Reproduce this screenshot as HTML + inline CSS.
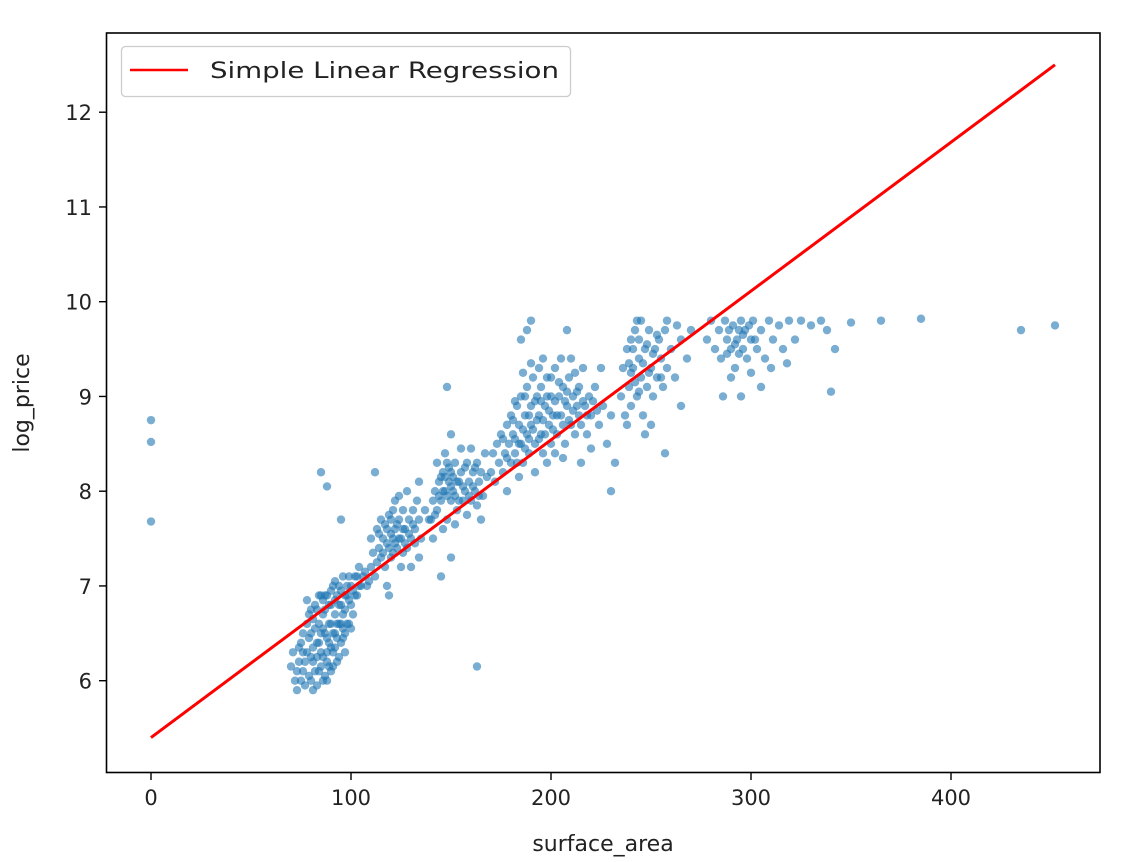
<!DOCTYPE html>
<html><head><meta charset="utf-8"><style>
html,body{margin:0;padding:0;background:#fff;}
svg{display:block;font-family:"DejaVu Sans","Liberation Sans",sans-serif;}
</style></head><body>
<svg id="chart" width="1126" height="862" viewBox="0 0 1126 862" xmlns="http://www.w3.org/2000/svg">
<rect x="0" y="0" width="1126" height="862" fill="#fff"/>
<g id="points"></g>
<g id="fit"></g>
<rect x="106.5" y="33" width="993.5" height="739.5" fill="none" stroke="#000" stroke-width="1.6"/>
<g id="xticks"></g>
<g id="yticks"></g>
<text x="603" y="851" font-size="22" text-anchor="middle" fill="#222">surface_area</text>
<text x="0" y="0" transform="translate(29,403) rotate(-90)" font-size="22" text-anchor="middle" fill="#222">log_price</text>
<g>
<rect x="121.5" y="46.5" width="449" height="50" rx="4" fill="#fff" fill-opacity="0.8" stroke="#ccc" stroke-width="1.3"/>
<line x1="130" y1="70" x2="188" y2="70" stroke="#f00" stroke-width="2.6"/>
<text x="210" y="78" font-size="22" fill="#222" textLength="349" lengthAdjust="spacingAndGlyphs">Simple Linear Regression</text>
</g>
</svg>
<script>
const xTicks = [0, 100, 200, 300, 400];
const yTicks = [6, 7, 8, 9, 10, 11, 12];
const fitX = [0, 452];
const fitY = [5.4, 12.5];
const points = [
[72,6.0],[74,6.2],[75,6.4],[76,6.1],[78,6.3],[78,6.6],[80,6.0],[80,6.5],[81,6.2],[82,6.8],[83,6.4],[84,6.1],[84,6.6],[85,6.9],[85,6.3],[86,6.0],[86,6.7],[87,6.5],[88,6.2],[88,6.9],[89,6.4],[89,6.8],[90,6.1],[90,6.6],[91,7.0],[91,6.3],[92,6.7],[92,6.5],[93,6.2],[93,6.9],[94,6.6],[94,7.0],[95,6.4],[95,6.8],[96,6.7],[96,7.1],[97,6.5],[98,6.9],[98,6.6],[99,7.1],[100,6.8],[100,7.0],[101,6.7],[102,7.1],[103,6.9],[104,7.2],[105,7.0],[106,7.1],[83,5.95],[87,6.05],[79,6.7],[76,6.5],[97,6.3],[90,6.95],[86,6.85],[82,6.55],[93,6.45],[99,6.6],[88,6.0],[71,6.3],
[73,5.9],[77,5.95],[81,5.9],[85,6.15],[89,6.15],[91,6.5],[95,6.6],[97,6.9],[92,6.85],[84,6.4],[80,6.25],[87,6.75],[102,6.9],[104,7.0],[90,6.35],[96,6.45],[70,6.15],[75,6.0],[94,6.25],[98,7.0],
[73,6.1],[74,6.35],[77,6.2],[79,6.05],[79,6.45],[81,6.35],[81,6.65],[83,6.25],[83,6.75],[85,6.5],[86,6.25],[87,6.9],[88,6.45],[89,6.6],[90,6.8],[91,6.15],[92,6.35],[93,6.6],[94,6.8],[95,6.95],[96,6.55],[97,6.75],[99,6.85],[101,6.95],[103,7.1],[100,6.55],[78,6.85],[84,6.9],[92,7.05],[86,6.55],[88,6.3],[82,6.1],[76,6.3],[80,6.75],
[108,7.0],[110,7.2],[112,7.1],[114,7.4],[115,7.3],[116,7.5],[117,7.2],[118,7.6],[119,7.4],[120,7.3],[120,7.7],[121,7.5],[122,7.6],[123,7.4],[124,7.7],[125,7.5],[126,7.8],[127,7.6],[128,7.4],[129,7.7],[130,7.5],[131,7.8],[132,7.6],[133,7.9],[134,7.7],[135,7.5],[118,7.0],[125,7.2],[130,7.2],[122,7.9],[137,7.8],[113,7.6],[128,8.0],[115,7.7],[139,7.7],[119,6.9],[110,7.5],[126,7.35],[134,7.3],[124,7.95],
[114,7.55],[116,7.35],[118,7.45],[120,7.55],[121,7.35],[122,7.45],[123,7.65],[124,7.5],[126,7.6],[127,7.45],[129,7.55],[131,7.65],[132,7.45],[117,7.65],[119,7.75],[121,7.8],[111,7.35],[113,7.25],[107,7.15],[109,7.05],
[140,7.7],[141,7.9],[142,8.0],[143,7.8],[144,8.1],[145,7.9],[146,8.2],[147,8.0],[148,7.7],[148,8.3],[149,8.1],[150,7.9],[150,8.2],[151,8.0],[152,8.3],[153,7.8],[154,8.1],[155,8.2],[156,7.9],[157,8.0],[158,8.3],[159,8.1],[160,7.9],[161,8.2],[162,8.0],[163,8.3],[164,8.1],[165,8.2],[166,7.95],[143,8.3],[146,7.6],[152,7.65],[155,8.45],[160,8.45],[147,8.4],[167,8.4],[141,7.5],[158,7.75],[163,7.85],[168,8.15],
[144,7.95],[145,8.15],[146,8.0],[147,8.15],[148,7.95],[149,8.25],[150,8.05],[151,8.15],[152,7.95],[153,8.1],[154,7.9],[156,8.05],[157,8.25],[159,7.95],[161,8.05],[162,8.25],[164,7.95],[142,7.75],
[170,8.2],[171,8.4],[172,8.1],[173,8.5],[174,8.3],[175,8.6],[176,8.2],[177,8.4],[178,8.7],[179,8.5],[180,8.3],[180,8.8],[181,8.6],[182,8.4],[183,8.9],[184,8.7],[185,8.5],[185,9.0],[186,8.3],[187,8.8],[188,8.6],[188,9.1],[189,8.4],[190,8.9],[190,8.7],[191,9.2],[192,8.5],[193,9.0],[194,8.8],[195,8.6],[195,9.1],[196,8.4],[197,8.9],[198,9.2],[199,8.7],[200,9.0],[200,8.5],[201,8.8],[202,9.3],[203,8.6],[204,9.0],[205,8.8],[206,9.1],[207,8.5],[208,8.9],[209,9.2],[210,8.7],[211,9.0],[212,8.6],[213,8.9],[214,9.1],[215,8.7],[216,9.3],[217,8.9],[218,8.6],[219,9.0],[220,8.8],[222,9.1],[224,8.7],[226,8.9],[228,8.5],[185,9.6],[188,9.7],[196,9.4],[205,9.4],[178,8.0],[192,8.2],[215,8.3],[230,8.8],[232,8.3],[225,9.3],[210,9.4],
[182,8.95],[186,9.25],[190,9.35],[194,9.3],[198,8.3],[202,8.4],[206,8.35],[184,8.15],[212,9.25],[220,8.45],
[176,8.55],[178,8.35],[181,8.75],[182,8.55],[183,8.3],[184,8.5],[186,8.65],[187,8.45],[189,8.8],[189,8.55],[191,8.65],[192,8.95],[193,8.75],[194,8.55],[196,8.75],[197,8.6],[198,9.0],[199,8.85],[201,8.65],[202,8.95],[203,8.8],[204,9.15],[206,8.7],[207,8.95],[208,9.05],[209,8.75],[211,8.85],[213,9.05],[214,8.8],[216,8.95],[218,8.8],[221,8.95],[223,8.85],[187,9.0],[195,8.95],[200,9.2],
[235,9.0],[236,9.3],[237,8.8],[238,9.5],[239,9.1],[240,9.6],[240,8.9],[241,9.3],[242,9.7],[243,9.0],[244,9.4],[245,9.2],[245,9.8],[246,8.8],[247,9.5],[248,9.1],[249,9.7],[250,9.3],[251,9.0],[252,9.5],[253,9.2],[254,9.6],[255,9.4],[256,9.1],[257,9.7],[258,9.3],[260,9.5],[262,9.2],[265,9.6],[268,9.4],[270,9.7],[238,8.7],[250,8.7],[243,9.8],[258,9.8],[263,9.75],[247,8.6],
[239,9.35],[241,9.5],[242,9.15],[244,9.6],[246,9.35],[248,9.55],[249,9.25],[251,9.45],[253,9.65],[255,9.2],[244,9.05],[240,9.25],
[278,9.6],[280,9.8],[282,9.5],[284,9.7],[285,9.4],[287,9.8],[288,9.6],[290,9.5],[291,9.75],[292,9.3],[293,9.6],[295,9.8],[296,9.5],[297,9.7],[298,9.4],[300,9.6],[301,9.8],[303,9.5],[305,9.7],[307,9.4],[309,9.8],[311,9.6],[314,9.75],[316,9.5],[319,9.8],[322,9.6],[325,9.8],[330,9.75],[335,9.8],[290,9.2],[300,9.25],[310,9.3],[286,9.0],[305,9.1],[318,9.35],
[289,9.7],[292,9.55],[294,9.7],[296,9.65],[299,9.75],[302,9.6],[288,9.45],[294,9.45],
[0,8.75],[0,8.52],[0,7.68],[85,8.2],[88,8.05],[95,7.7],[112,8.2],[134,8.1],[150,8.6],[148,9.1],[163,6.15],[165,7.7],[150,7.3],[145,7.1],[338,9.7],[342,9.5],[350,9.78],[365,9.8],[385,9.82],[435,9.7],[452,9.75],[340,9.05],[295,9.0],[230,8.0],[257,8.4],[265,8.9],[190,9.8],[208,9.7]
];
const NS = "http://www.w3.org/2000/svg";
const X0 = 151, XS = 2.0;
const Y6 = 680.7, YS = 94.75;
function sx(v){ return X0 + v * XS; }
function sy(v){ return Y6 - (v - 6) * YS; }
function mk(tag, attrs, parent){
  const el = document.createElementNS(NS, tag);
  for (const k in attrs) el.setAttribute(k, attrs[k]);
  parent.appendChild(el);
  return el;
}
const gp = document.getElementById('points');
points.forEach(p => {
  const c = mk('circle', {cx: sx(p[0]), cy: sy(p[1]), r: 4.2, fill: '#1f77b4', 'fill-opacity': 0.6}, gp);
  
  
});
const gf = document.getElementById('fit');
const ln = mk('line', {x1: sx(fitX[0]), y1: sy(fitY[0]), x2: sx(fitX[1]), y2: sy(fitY[1]), stroke: '#f00', 'stroke-width': 3}, gf);


const gx = document.getElementById('xticks');
xTicks.forEach(t => {
  const tk = mk('line', {x1: sx(t), y1: 773, x2: sx(t), y2: 780, stroke: '#000', 'stroke-width': 1.4}, gx);
  
  
  const tx = mk('text', {x: sx(t), y: 805, 'font-size': 21, 'text-anchor': 'middle', fill: '#222'}, gx);
  tx.textContent = t;
  
  
});
const gy = document.getElementById('yticks');
yTicks.forEach(t => {
  const tk = mk('line', {x1: 99, y1: sy(t), x2: 106, y2: sy(t), stroke: '#000', 'stroke-width': 1.4}, gy);
  
  
  const tx = mk('text', {x: 92, y: sy(t) + 8, 'font-size': 21, 'text-anchor': 'end', fill: '#222'}, gy);
  tx.textContent = t;
  
  
});
</script>
</body></html>
